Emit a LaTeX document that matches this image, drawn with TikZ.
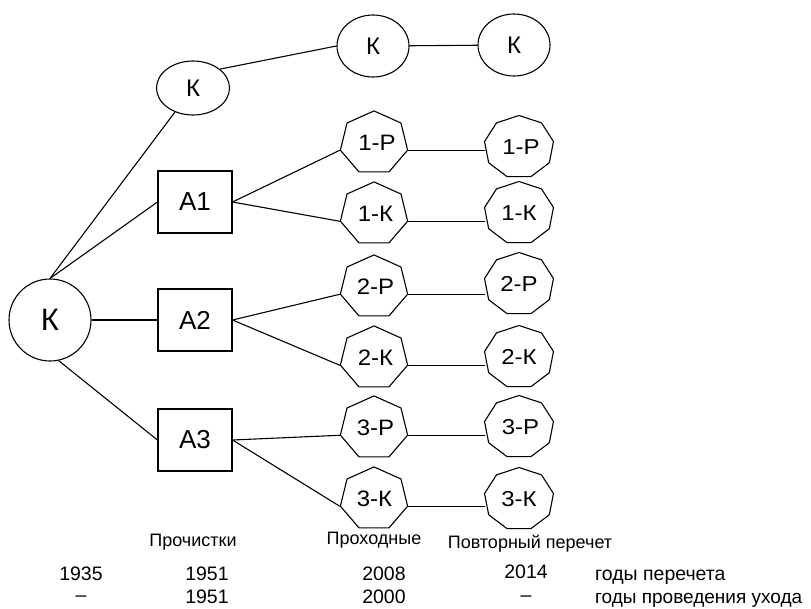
\documentclass[tikz,border=0pt]{standalone}
\usepackage{fontspec}
\setmainfont{Liberation Sans}
\usetikzlibrary{shapes.geometric}
\tikzset{
  ln/.style={line width=1.1pt},
  ov/.style={ellipse, draw, line width=1.1pt, inner sep=0pt, font=\fontsize{24}{27}\selectfont},
  box/.style={rectangle, draw, line width=1.1pt, inner sep=0pt, minimum width=74pt, minimum height=62pt, font=\fontsize{26}{29}\selectfont},
  hept/.style={regular polygon, regular polygon sides=7, draw, line width=1.1pt, inner sep=0pt, minimum size=69pt, yscale=0.93, font=\fontsize{24}{27}\selectfont},
  nona/.style={regular polygon, regular polygon sides=9, draw, line width=1.1pt, inner sep=0pt, minimum size=70pt, yscale=0.9, font=\fontsize{24}{27}\selectfont},
  lbl/.style={inner sep=0pt, anchor=base, font=\fontsize{18}{20}\selectfont},
  yr/.style={inner sep=0pt, anchor=base, font=\fontsize{19.5}{22}\selectfont}
}
\begin{document}
\begin{tikzpicture}[x=1pt,y=-1pt]
\useasboundingbox (0,0) rectangle (811,608);
% ovals
\node[ov, minimum width=82pt, minimum height=82pt, font=\fontsize{31}{34}\selectfont] (bigK) at (50,320) {К};
\node[ov, minimum width=73pt, minimum height=54pt] (smallK) at (193,88) {К};
\node[ov, minimum width=72pt, minimum height=62pt] (topK1) at (373,46) {К};
\node[ov, minimum width=72pt, minimum height=62pt] (topK2) at (514,45) {К};
% boxes
\node[box] (A1) at (195,202) {А1};
\node[box] (A2) at (195,320) {А2};
\node[box] (A3) at (195,440) {А3};
% heptagons
\node[hept] (h1P) at (374,143) {\hspace{6pt}1-Р};
\node[hept] (h1K) at (374,214) {\hspace{3pt}1-К};
\node[hept] (h2P) at (374,287) {\hspace{3pt}2-Р};
\node[hept] (h2K) at (374,358) {\hspace{3pt}2-К};
\node[hept] (h3P) at (374,428) {\hspace{3pt}3-Р};
\node[hept] (h3K) at (374,499) {\hspace{1pt}3-К};
% nonagons
\node[nona] (n1P) at (519,147) {\hspace{4pt}1-Р};
\node[nona] (n1K) at (519,213) {1-К};
\node[nona] (n2P) at (519,284) {2-Р};
\node[nona] (n2K) at (519,357) {2-К};
\node[nona] (n3P) at (519,427) {\hspace{3pt}3-Р};
\node[nona] (n3K) at (519,499) {3-К};
% connectors
\draw[ln] (bigK.north) -- (smallK);
\draw[ln] (bigK.north) -- (A1.west);
\draw[ln] (bigK.east) -- (A2.west);
\draw[ln] (bigK.-78) -- (A3.west);
\draw[ln] (smallK.35) -- (topK1.west);
\draw[ln] (topK1) -- (topK2);
\foreach \a/\p/\k in {A1/h1P/h1K, A2/h2P/h2K, A3/h3P/h3K}{
  \draw[ln] (\a.east) -- (\p.corner 3);
  \draw[ln] (\a.east) -- (\k.corner 3);
}
\foreach \h/\n in {h1P/n1P, h1K/n1K, h2P/n2P, h2K/n2K, h3P/n3P, h3K/n3K}{
  \draw[ln] (\h.corner 6) -- (\h.corner 6 -| \n.west);
}
% labels
\node[lbl] (lprch) at (193,546) {Прочистки};
\node[lbl] (lprh) at (374,544) {Проходные};
\node[lbl] (lpov) at (530,548) {Повторный перечет};
\node[yr] (y1a) at (81,580) {1935};
\node[yr] (y1b) at (207,580) {1951};
\node[yr] (y1c) at (384,580) {2008};
\node[yr] (y1d) at (526,578) {2014};
\node[yr, anchor=base west] (y1e) at (595,580) {годы перечета};
\node[yr] (y2a) at (81,601) {–};
\node[yr] (y2b) at (207,603) {1951};
\node[yr] (y2c) at (384,603) {2000};
\node[yr] (y2d) at (526,601) {–};
\node[yr, anchor=base west, font=\fontsize{19}{22}\selectfont] (y2e) at (595,603) {годы проведения ухода};
\end{tikzpicture}
\end{document}
